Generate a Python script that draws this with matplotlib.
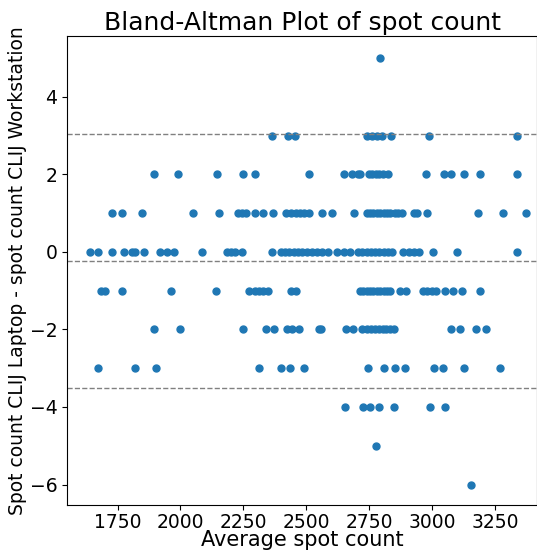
import matplotlib
matplotlib.use("Agg")
import matplotlib.pyplot as plt
import numpy as np

# average spot count, grouped by difference (laptop - workstation)
avg_p5 = [2792]
avg_p3 = [2365, 2426, 2455, 2740, 2759, 2779, 2799, 2836, 2987, 3335]
avg_p2 = [1894, 1990, 2143, 2247, 2296, 2512, 2647, 2680, 2704, 2714, 2749,
          2762, 2775, 2788, 2802, 2822, 2974, 3044, 3074, 3124, 3189, 3335]
avg_p1 = [1728, 1767, 1847, 2048, 2154, 2230, 2244, 2259, 2294, 2326, 2369,
          2418, 2439, 2458, 2476, 2492, 2511, 2561, 2602, 2687, 2740, 2753,
          2766, 2779, 2792, 2806, 2819, 2832, 2852, 2865, 2878, 2925, 2938,
          2978, 3180, 3279, 3372]
avg_0 = [1642, 1672, 1728, 1774, 1807, 1820, 1856, 1920, 1946, 1976, 2085,
         2184, 2200, 2217, 2244, 2365, 2400, 2415, 2431, 2449, 2466, 2484,
         2501, 2521, 2541, 2561, 2585, 2621, 2647, 2673, 2706, 2722, 2740,
         2757, 2773, 2788, 2806, 2823, 2839, 2885, 2905, 2925, 2945, 3004,
         3097, 3335]
avg_m1 = [1685, 1701, 1767, 1963, 2140, 2270, 2294, 2310, 2326, 2349, 2439,
          2458, 2713, 2726, 2740, 2753, 2766, 2779, 2792, 2806, 2819, 2832,
          2872, 2894, 2964, 2978, 2997, 3013, 3050, 3083, 3116, 3189]
avg_m2 = [1894, 2000, 2247, 2339, 2373, 2422, 2442, 2472, 2548, 2558, 2658,
          2683, 2720, 2740, 2757, 2773, 2786, 2802, 2815, 2832, 2849, 3073,
          3110, 3173, 3213]
avg_m3 = [1671, 1820, 1904, 2312, 2398, 2435, 2490, 2746, 2806, 2852, 2892,
          3007, 3041, 3124, 3269]
avg_m4 = [2654, 2724, 2753, 2786, 2849, 2991, 3050]
avg_m5 = [2775]
avg_m6 = [3152]

groups = [(5, avg_p5), (3, avg_p3), (2, avg_p2), (1, avg_p1), (0, avg_0),
          (-1, avg_m1), (-2, avg_m2), (-3, avg_m3), (-4, avg_m4),
          (-5, avg_m5), (-6, avg_m6)]

mean = []
diff = []
for d, xs in groups:
    mean += xs
    diff += [d] * len(xs)
mean = np.array(mean)
diff = np.array(diff)

md = -0.23
sd_upper = 3.05
sd_lower = -3.5

fig = plt.figure(figsize=(5.37, 5.52), dpi=100)
ax = fig.add_axes([0.125, 0.085, 0.875, 0.85])
ax.scatter(mean, diff, s=25, color='#1f77b4')
ax.axhline(md, color='gray', linestyle='--', linewidth=1)
ax.axhline(sd_upper, color='gray', linestyle='--', linewidth=1)
ax.axhline(sd_lower, color='gray', linestyle='--', linewidth=1)

ax.set_xlim(1550, 3415)
ax.set_ylim(-6.53, 5.57)
ax.set_xticks([1750, 2000, 2250, 2500, 2750, 3000, 3250])
ax.set_yticks([-6, -4, -2, 0, 2, 4])
ax.tick_params(labelsize=13.5)
ax.tick_params(axis='x', pad=2)
ax.set_title('Bland-Altman Plot of spot count', fontsize=18, pad=4)
ax.set_xlabel('Average spot count', fontsize=15, labelpad=-1)
ax.set_ylabel('Spot count CLIJ Laptop - spot count CLIJ Workstation', fontsize=13.5, labelpad=2)

fig.savefig('out.png', dpi=100)
